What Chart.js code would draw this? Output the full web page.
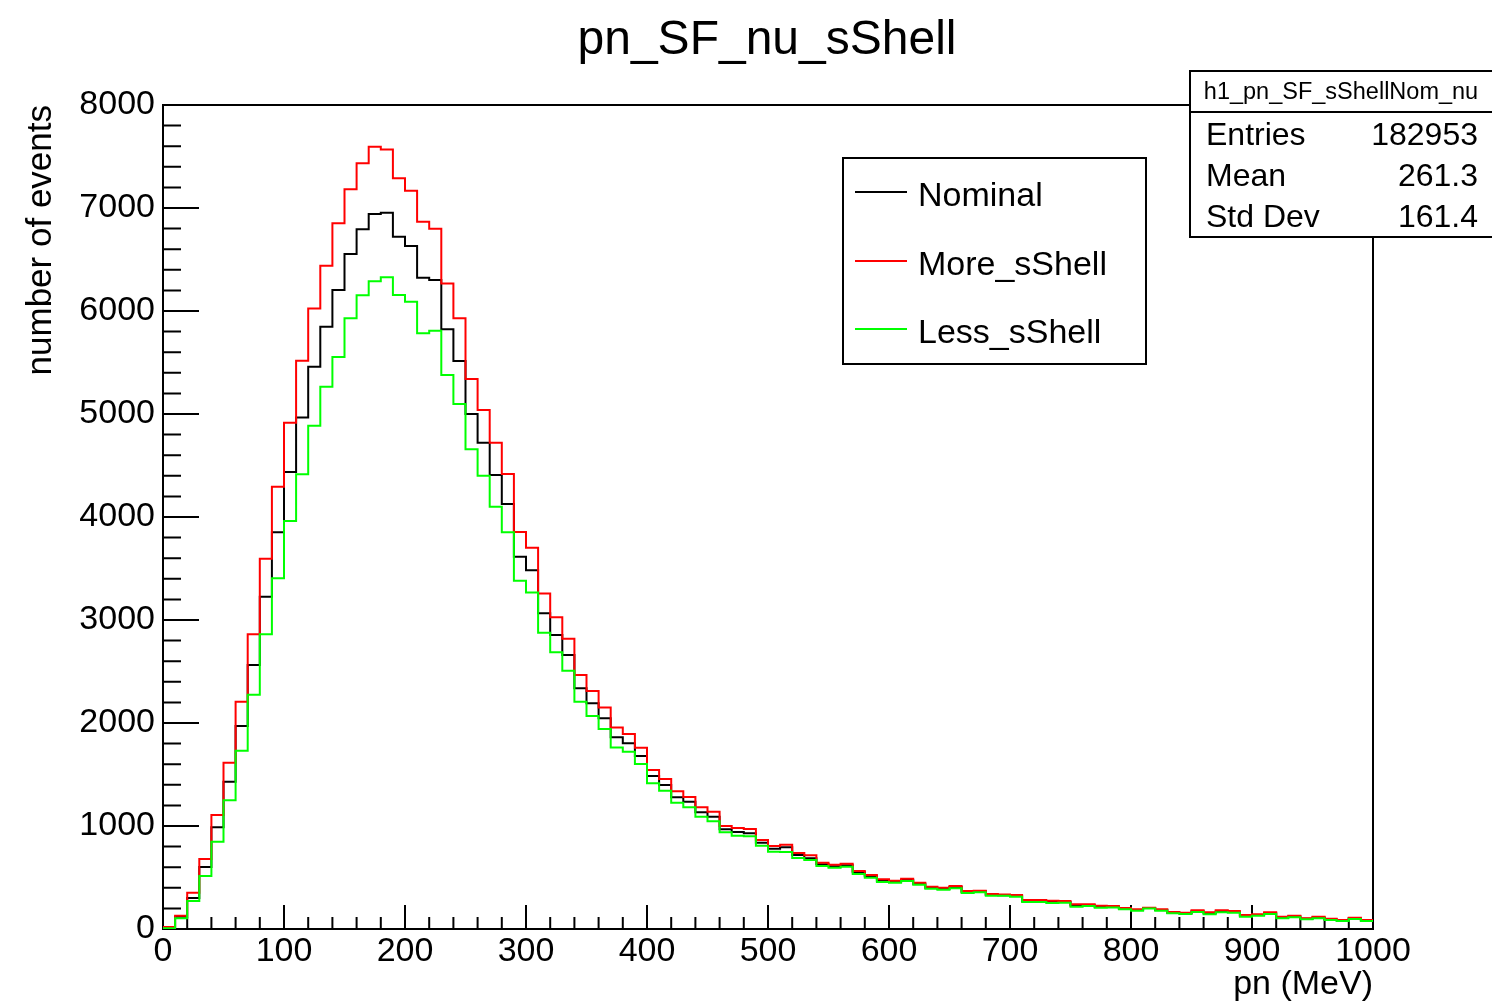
<!DOCTYPE html>
<html lang="en">
<head>
<meta charset="UTF-8">
<title>pn_SF_nu_sShell</title>
<script src="https://cdn.jsdelivr.net/npm/chart.js"></script>
<style>
    body {
        margin: 0;
        background: #ffffff;
    }

    .chart-container {
        position: relative;
        width: 1492px;
        height: 1005px;
    }
</style>
</head>
<body>
<div class="chart-container">
    <canvas id="histChart"></canvas>
</div>

<script>
    // 100 bins of 10 MeV, 0 - 1000 MeV
    const binWidth = 10;
    const nominal = [15, 120, 300, 602, 987, 1430, 1971, 2563, 3226, 3851,
        4437, 4967, 5459, 5848, 6204, 6553, 6793, 6942, 6955, 6722,
        6631, 6323, 6301, 5822, 5515, 5000, 4721, 4408, 4126, 3614,
        3482, 3065, 2854, 2660, 2337, 2191, 2045, 1861, 1803, 1680,
        1485, 1398, 1278, 1236, 1133, 1090, 968, 942, 929, 838,
        780, 793, 718, 686, 628, 609, 618, 550, 511, 469,
        459, 476, 440, 401, 391, 408, 359, 366, 330, 328,
        320, 272, 272, 263, 263, 228, 231, 216, 216, 197,
        184, 203, 185, 158, 152, 173, 152, 171, 166, 128,
        136, 154, 112, 121, 99, 112, 93, 82, 103, 82];
    const moreShell = [20, 129, 352, 680, 1107, 1615, 2207, 2861, 3594, 4294,
        4915, 5517, 6025, 6440, 6851, 7181, 7434, 7595, 7569, 7288,
        7168, 6867, 6799, 6268, 5929, 5340, 5039, 4721, 4417, 3854,
        3702, 3258, 3026, 2818, 2466, 2311, 2150, 1956, 1893, 1760,
        1544, 1456, 1337, 1282, 1181, 1139, 1000, 981, 971, 864,
        806, 818, 738, 715, 644, 624, 634, 563, 524, 482,
        469, 488, 450, 411, 401, 417, 369, 372, 340, 336,
        330, 282, 282, 275, 272, 240, 240, 226, 224, 204,
        191, 207, 191, 166, 158, 181, 162, 181, 175, 136,
        143, 162, 120, 129, 104, 120, 100, 87, 110, 87];
    const lessShell = [8, 104, 272, 515, 848, 1249, 1731, 2275, 2861, 3405,
        3961, 4414, 4887, 5265, 5553, 5929, 6152, 6288, 6327, 6155,
        6090, 5783, 5809, 5379, 5097, 4657, 4401, 4100, 3851, 3382,
        3268, 2877, 2686, 2508, 2207, 2068, 1942, 1762, 1722, 1602,
        1414, 1343, 1226, 1181, 1090, 1045, 939, 906, 900, 809,
        751, 748, 690, 670, 612, 595, 605, 534, 498, 456,
        450, 466, 430, 391, 382, 395, 350, 356, 323, 322,
        312, 262, 262, 252, 255, 217, 223, 207, 208, 191,
        178, 200, 178, 152, 145, 165, 143, 162, 158, 120,
        129, 146, 104, 113, 94, 104, 87, 78, 97, 78];
    const xTicks = [0, 100, 200, 300, 400, 500, 600, 700, 800, 900, 1000];
    const yTicks = [0, 1000, 2000, 3000, 4000, 5000, 6000, 7000, 8000];
    const seriesNames = ['Nominal', 'More_sShell', 'Less_sShell'];
    const seriesColors = ['#000000', '#ff0000', '#00ff00'];
    const titleText = 'pn_SF_nu_sShell';
    const statsName = 'h1_pn_SF_sShellNom_nu';
    const statsLabels = ['Entries', 'Mean', 'Std Dev'];
    const statsValues = ['182953', '261.3', '161.4'];

    const FONT = '"Liberation Sans", Arial, Helvetica, sans-serif';

    // step outline: one point per bin low edge + closing point at the upper edge
    function toSteps(values) {
        const pts = values.map((v, i) => ({ x: i * binWidth, y: v }));
        pts.push({ x: values.length * binWidth, y: values[values.length - 1] });
        return pts;
    }

    // ROOT-like frame, inward ticks, title, legend box and stats box
    const rootDecor = {
        id: 'rootDecor',
        beforeDatasetsDraw(chart) {
            const { ctx, chartArea: a, scales: { x, y } } = chart;
            ctx.save();
            ctx.strokeStyle = '#000';
            ctx.lineWidth = 2;
            ctx.strokeRect(a.left, a.top, a.right - a.left, a.bottom - a.top);
            ctx.beginPath();
            for (let v = x.min; v <= x.max; v += 20) {
                const px = x.getPixelForValue(v);
                const len = v % 100 === 0 ? 24 : 12;
                ctx.moveTo(px, a.bottom);
                ctx.lineTo(px, a.bottom - len);
            }
            for (let v = y.min; v <= y.max; v += 200) {
                const py = y.getPixelForValue(v);
                const len = v % 1000 === 0 ? 36 : 18;
                ctx.moveTo(a.left, py);
                ctx.lineTo(a.left + len, py);
            }
            ctx.stroke();
            ctx.restore();
        },
        afterDraw(chart) {
            const ctx = chart.ctx;
            ctx.save();
            ctx.lineWidth = 2;
            ctx.strokeStyle = '#000';
            ctx.fillStyle = '#000';
            ctx.textBaseline = 'middle';

            // title (ROOT places it slightly right of centre)
            ctx.font = '48px ' + FONT;
            ctx.textAlign = 'center';
            ctx.fillText(titleText, 767, 41);

            // legend
            const lx = 843, ly = 158, lw = 303, lh = 206;
            ctx.fillStyle = '#fff';
            ctx.fillRect(lx, ly, lw, lh);
            ctx.strokeRect(lx, ly, lw, lh);
            const rowY = [194, 263, 331];
            ctx.font = '34px ' + FONT;
            ctx.textAlign = 'left';
            seriesNames.forEach((name, i) => {
                ctx.strokeStyle = seriesColors[i];
                ctx.beginPath();
                ctx.moveTo(855, rowY[i] - 2);
                ctx.lineTo(907, rowY[i] - 2);
                ctx.stroke();
                ctx.fillStyle = '#000';
                ctx.fillText(name, 918, rowY[i] + 3);
            });

            // stats box
            const sx = 1190, sy = 71, sw = 312, sh = 166;
            ctx.strokeStyle = '#000';
            ctx.fillStyle = '#fff';
            ctx.fillRect(sx, sy, sw, sh);
            ctx.strokeRect(sx, sy, sw, sh);
            ctx.beginPath();
            ctx.moveTo(sx, 112);
            ctx.lineTo(sx + sw, 112);
            ctx.stroke();
            ctx.fillStyle = '#000';
            ctx.font = '23.5px ' + FONT;
            ctx.textAlign = 'center';
            ctx.fillText(statsName, 1341, 93);
            ctx.font = '32px ' + FONT;
            const statY = [136, 177, 218];
            statsLabels.forEach((lab, i) => {
                ctx.textAlign = 'left';
                ctx.fillText(lab, 1206, statY[i]);
                ctx.textAlign = 'right';
                ctx.fillText(statsValues[i], 1478, statY[i]);
            });
            ctx.restore();
        }
    };

    const ctx = document.getElementById('histChart').getContext('2d');
    const datasets = [
        { label: seriesNames[0], data: toSteps(nominal), borderColor: seriesColors[0], order: 2 },
        { label: seriesNames[1], data: toSteps(moreShell), borderColor: seriesColors[1], order: 1 },
        { label: seriesNames[2], data: toSteps(lessShell), borderColor: seriesColors[2], order: 0 }
    ].map(d => Object.assign(d, {
        stepped: 'before',
        borderWidth: 2,
        pointRadius: 0,
        fill: false,
        tension: 0
    }));

    const chart = new Chart(ctx, {
        type: 'line',
        data: { datasets: datasets },
        options: {
            responsive: true,
            maintainAspectRatio: false,
            animation: false,
            layout: { padding: { top: 105, left: 0, right: 119, bottom: 0 } },
            plugins: {
                legend: { display: false },
                tooltip: { enabled: false },
                title: { display: false }
            },
            scales: {
                x: {
                    type: 'linear',
                    min: 0,
                    max: 1000,
                    afterBuildTicks: s => { s.ticks = xTicks.map(v => ({ value: v })); },
                    afterFit: s => { s.height = 76; },
                    grid: { display: false, drawTicks: false },
                    border: { display: false },
                    ticks: {
                        color: '#000',
                        font: { family: FONT, size: 34 },
                        padding: 2,
                        maxRotation: 0,
                        autoSkip: false,
                        callback: v => String(v)
                    },
                    title: {
                        display: true,
                        text: 'pn (MeV)',
                        align: 'end',
                        color: '#000',
                        font: { family: FONT, size: 34 },
                        padding: { top: 0, bottom: 0 }
                    }
                },
                y: {
                    min: 0,
                    max: 8000,
                    afterBuildTicks: s => { s.ticks = yTicks.map(v => ({ value: v })); },
                    afterFit: s => { s.width = 163; },
                    grid: { display: false, drawTicks: false },
                    border: { display: false },
                    ticks: {
                        color: '#000',
                        font: { family: FONT, size: 34 },
                        padding: 8,
                        callback: v => String(v)
                    },
                    title: {
                        display: true,
                        text: 'number of events',
                        align: 'end',
                        color: '#000',
                        font: { family: FONT, size: 35 },
                        padding: { top: 20, bottom: 0 }
                    }
                }
            }
        },
        plugins: [rootDecor]
    });
</script>
</body>
</html>
